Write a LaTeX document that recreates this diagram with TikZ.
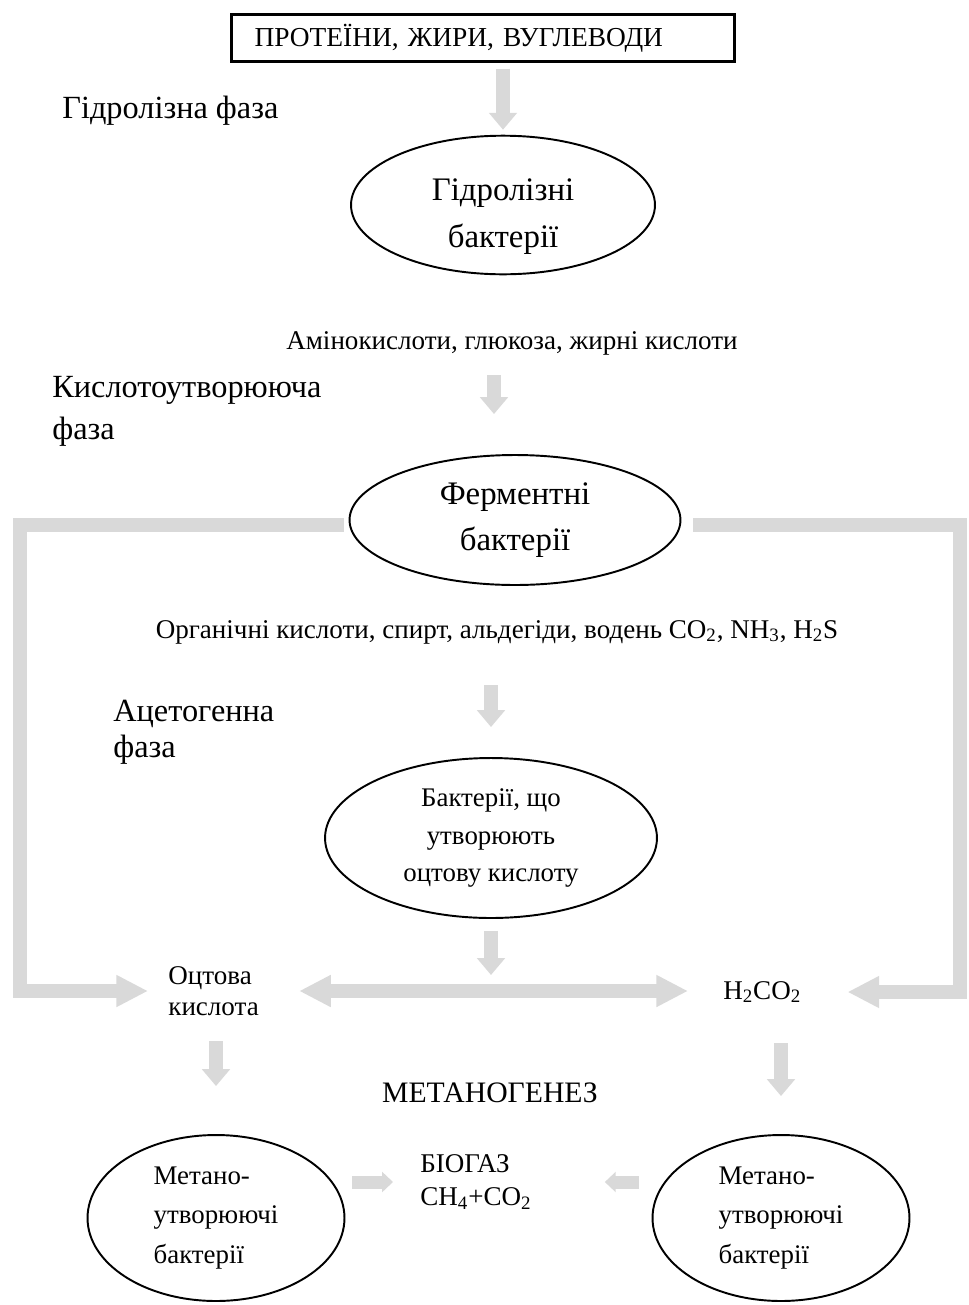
\documentclass[tikz,border=0pt]{standalone}
\usepackage{fontspec}
\setmainfont{Liberation Serif}
\usetikzlibrary{arrows.meta,positioning,shapes.geometric}
\definecolor{band}{HTML}{D9D9D9}
\tikzset{
  source/.style={rectangle,draw,line width=1.3pt,minimum width=10.06cm,minimum height=0.94cm,inner xsep=0.46cm,text width=9.14cm,align=left,font=\fontsize{15.6}{18}\selectfont},
  phase/.style={anchor=west,align=left,inner sep=0pt,font=\fontsize{18.4}{24}\selectfont},
  bact/.style={ellipse,draw,line width=1.1pt,align=center,inner sep=0pt,font=\fontsize{18.7}{26.6}\selectfont},
  bactsmall/.style={ellipse,draw,line width=1.1pt,align=center,inner sep=0pt,font=\fontsize{15.3}{21.5}\selectfont},
  methbox/.style={ellipse,draw,line width=1.1pt,align=left,inner sep=0pt,minimum width=5.14cm,minimum height=3.32cm,font=\fontsize{15.3}{22.5}\selectfont},
  prod/.style={inner sep=0pt,align=left,font=\fontsize{15.4}{18}\selectfont},
  flow/.style={band,line width=8.5pt,-{Triangle[length=9.6pt,width=15.5pt]}},
  wide/.style={band,line width=8.5pt,-{Triangle[length=18pt,width=17pt]}},
  twoway/.style={band,line width=8.5pt,{Triangle[length=18pt,width=17pt]}-{Triangle[length=18pt,width=17pt]}},
  small/.style={band,line width=7.4pt,-{Triangle[length=6.2pt,width=11.3pt]}}
}

\begin{document}
\begin{tikzpicture}[x=0.02cm,y=-0.02cm]
  \useasboundingbox (0,0) rectangle (968,1305);
  % phases
  \node[source] (top) at (483,38) {ПРОТЕЇНИ, ЖИРИ, ВУГЛЕВОДИ};
  \node[phase] (ph1) at (62,111) {Гідролізна фаза};
  \node[bact,minimum width=6.08cm,minimum height=2.7cm,text height=51.8pt] (hyd) at (503,205) {Гідролізні\\бактерії};
  \node[prod] (amino) at (512,343) {Амінокислоти, глюкоза, жирні кислоти};
  \node[phase] (ph2) at (52,411) {Кислотоутворююча\\фаза};
  \node[bact,minimum width=6.62cm,minimum height=2.6cm] (ferm) at (515,520) {Ферментні\\бактерії};
  \node[prod] (org) at (497,632) {Органічні кислоти, спирт, альдегіди, водень CO\textsubscript{2}, NH\textsubscript{3}, H\textsubscript{2}S};
  \node[phase,font=\fontsize{18.4}{20.5}\selectfont] (ph3) at (113,732) {Ацетогенна\\фаза};
  \node[bactsmall,minimum width=6.64cm,minimum height=3.2cm] (acet) at (491,838) {Бактерії, що\\утворюють\\оцтову кислоту};
  \node[prod,anchor=west] (acid) at (168,991) {Оцтова\\кислота};
  \node[prod,anchor=west] (h2co2) at (723,992) {H\textsubscript{2}CO\textsubscript{2}};
  \node[prod,font=\fontsize{16.9}{18}\selectfont] (metan) at (490,1093) {МЕТАНОГЕНЕЗ};
  \node[methbox] (mleft) at (216,1218) {Метано-\\утворюючі\\бактерії};
  \node[methbox] (mright) at (781,1218) {Метано-\\утворюючі\\бактерії};
  \node[prod,anchor=west,font=\fontsize{15.4}{18.7}\selectfont] (biogas) at (420,1182) {БІОГАЗ\\CH\textsubscript{4}+CO\textsubscript{2}};

  \coordinate (lcorner) at (20,525);
  \coordinate (rcorner) at (960,525);
  \coordinate (a2) at ([xshift=-0.36cm]amino.south);

  % arrows
  \draw[flow,shorten <=0.12cm,shorten >=0.1cm] (hyd.north |- top.south) -- (hyd.north);
  \draw[flow,shorten <=0.4cm,shorten >=0.8cm] (a2) -- (a2 |- ferm.north);
  \draw[flow,shorten <=0.82cm,shorten >=0.6cm] (acet.north |- org.south) -- (acet.north);
  \draw[wide,shorten <=0.1cm,shorten >=0.4cm] (ferm.west |- lcorner) -- (lcorner) |- (acid.west);
  \draw[wide,shorten <=0.24cm,shorten >=0.92cm] (ferm.east |- rcorner) -- (rcorner) |- (h2co2.east);
  \draw[flow,shorten <=0.24cm,shorten >=0.32cm] (acet.south) -- (acet.south |- acid.east);
  \draw[twoway,shorten <=0.8cm,shorten >=0.7cm] (acid.east) -- (acid.east -| h2co2.west);
  \draw[flow,shorten <=0.5cm,shorten >=0.96cm] (mleft.north |- acid.south) -- (mleft.north);
  \draw[flow,shorten <=0.8cm,shorten >=0.76cm] (mright.north |- h2co2.south) -- (mright.north);
  \draw[small,shorten <=0.14cm,shorten >=0.54cm] (biogas.west -| mleft.east) -- (biogas.west);
  \draw[small,shorten <=0.26cm,shorten >=1.46cm] (biogas.east -| mright.west) -- (biogas.east);
\end{tikzpicture}
\end{document}
